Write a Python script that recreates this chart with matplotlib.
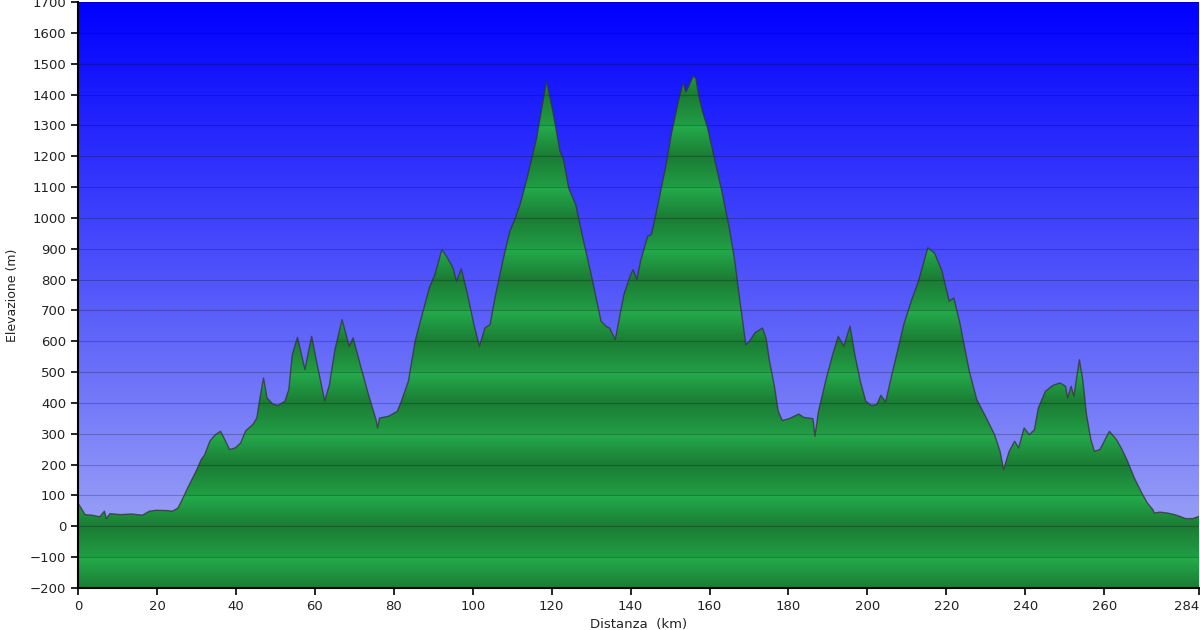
import numpy as np
import matplotlib
matplotlib.use("Agg")
import matplotlib.pyplot as plt
from matplotlib.patches import Polygon

# Profilo altimetrico: distanza (km) e quota (m)
distanza = [0.0, 0.5, 1.8, 3.6, 5.5, 6.7, 7.2, 8.1, 10.8, 13.6, 16.3, 18.1, 19.8,
            22.6, 23.9, 25.3, 26.2, 28.0, 29.9, 31.2, 32.1, 33.4, 34.8, 36.1, 37.2,
            38.4, 39.8, 41.2, 42.5, 44.3, 45.3, 46.1, 47.0, 47.9, 49.3, 50.6, 52.4,
            53.4, 54.3, 55.6, 57.5, 58.4, 59.2, 60.5, 62.5, 63.7, 65.1, 66.9, 68.7,
            69.7, 71.5, 73.7, 75.5, 75.9, 76.4, 78.7, 80.9, 81.9, 83.7, 85.4, 87.2,
            89.0, 90.4, 92.2, 93.6, 95.0, 95.9, 97.1, 98.5, 100.3, 101.7, 103.1,
            104.4, 105.8, 107.6, 109.4, 110.8, 112.1, 113.9, 114.8, 116.2, 117.5,
            118.7, 120.3, 122.1, 123.0, 124.3, 126.1, 127.9, 130.2, 132.5, 133.8,
            134.7, 136.1, 138.3, 139.7, 140.6, 141.6, 142.5, 144.3, 145.3, 147.1,
            149.0, 150.3, 152.1, 153.3, 154.0, 154.9, 155.8, 156.5, 157.2, 158.2,
            159.5, 161.4, 163.3, 165.0, 166.4, 167.8, 169.2, 170.1, 171.5, 173.4,
            174.3, 175.2, 176.5, 177.4, 178.4, 180.2, 182.6, 183.9, 186.2, 186.7,
            187.6, 189.4, 191.2, 192.6, 194.0, 195.6, 196.8, 198.2, 199.6, 201.0,
            202.4, 203.4, 204.6, 205.8, 207.4, 209.2, 211.1, 212.9, 215.3, 217.0,
            218.9, 220.7, 221.9, 223.5, 225.8, 227.7, 229.9, 232.2, 233.6, 234.5,
            235.9, 237.3, 238.3, 239.7, 241.0, 242.3, 243.3, 245.1, 247.0, 248.8,
            250.2, 250.7, 251.6, 252.3, 253.7, 254.6, 255.5, 256.6, 257.5, 258.9,
            261.3, 263.1, 264.5, 265.9, 267.6, 269.5, 270.9, 272.3, 272.7, 274.1,
            276.0, 277.8, 279.2, 280.6, 282.4, 284.0]
quota = [75, 65, 38, 36, 31, 49, 25, 41, 38, 40, 36, 49, 52,
         51, 49, 59, 81, 130, 178, 216, 232, 276, 297, 308, 281,
         249, 254, 270, 310, 330, 351, 416, 481, 416, 397, 392, 405,
         443, 557, 613, 508, 567, 616, 530, 407, 459, 573, 670, 584,
         611, 524, 422, 346, 319, 351, 357, 373, 405, 470, 600, 686,
         773, 816, 897, 870, 838, 794, 835, 762, 654, 584, 643,
         654, 751, 859, 957, 1000, 1048, 1135, 1184, 1259, 1356,
         1443, 1346, 1216, 1189, 1097, 1043, 935, 805, 665, 648,
         643, 605, 751, 805, 832, 800, 859, 940, 946, 1054,
         1173, 1270, 1378, 1438, 1408, 1432, 1459, 1454, 1400, 1346,
         1292, 1184, 1075, 967, 859, 719, 589, 600, 627, 643,
         611, 535, 449, 373, 343, 349, 364, 353, 349, 292,
         373, 470, 557, 616, 584, 649, 557, 470, 405, 392,
         395, 425, 403, 470, 557, 654, 730, 794, 903, 886,
         827, 730, 740, 654, 503, 411, 357, 297, 243, 184,
         243, 276, 254, 319, 297, 313, 384, 438, 457, 465,
         454, 416, 454, 422, 540, 470, 362, 281, 243, 249,
         308, 281, 249, 211, 157, 108, 76, 54, 43, 46,
         43, 38, 32, 25, 25, 32]

x_ticks = [0, 20, 40, 60, 80, 100, 120, 140, 160, 180, 200, 220, 240, 260, 284]
y_ticks = list(range(-200, 1701, 100))
x_min, x_max = 0, 284
y_min, y_max = -200, 1700

fig = plt.figure(figsize=(12, 6.3), dpi=100)
ax = fig.add_axes([78 / 1200, 42 / 630, 1121 / 1200, 586 / 630])

# sfondo: sfumatura dal blu al lilla
e = np.linspace(y_max, y_min, 600)
t = (y_max - e) / (y_max - y_min)
sky = np.zeros((len(e), 1, 3))
sky[:, 0, 0] = 170 * t / 255
sky[:, 0, 1] = 178 * t / 255
sky[:, 0, 2] = (255 - 10 * t) / 255
ax.imshow(sky, extent=[x_min, x_max, y_min, y_max], aspect="auto",
          interpolation="bilinear", zorder=0)

# riempimento verde a bande ogni 100 m
e2 = np.linspace(y_max, y_min, 1900)
d = np.mod(100 - e2, 200)
b = np.where(d < 100, 1 - d / 100, 0.7 * (d - 100) / 100)
dark = np.array([27, 124, 52]) / 255
bright = np.array([36, 172, 76]) / 255
green = dark[None, :] + b[:, None] * (bright - dark)[None, :]
green = green[:, None, :]
im = ax.imshow(green, extent=[x_min, x_max, y_min, y_max], aspect="auto",
               interpolation="bilinear", zorder=1)
verts = [(distanza[0], y_min)] + list(zip(distanza, quota)) + [(distanza[-1], y_min)]
poly = Polygon(verts, closed=True, facecolor="none", edgecolor="none")
ax.add_patch(poly)
im.set_clip_path(poly)

ax.plot(distanza, quota, color="#333333", lw=1.0, alpha=0.75, zorder=3)

# griglia orizzontale
for yv in y_ticks:
    ax.axhline(yv, color="black", lw=0.8, alpha=0.22, zorder=2)

ax.set_xlim(x_min, x_max)
ax.set_ylim(y_min, y_max)
ax.set_xticks(x_ticks)
ax.set_yticks(y_ticks)
ax.tick_params(axis="both", direction="out", length=5, width=1.2,
               labelsize=9.5, labelcolor="#222222")
# l'ultima etichetta (284) sta sul bordo destro
ax.get_xticklabels()[-1].set_horizontalalignment("right")
for s in ["top", "right"]:
    ax.spines[s].set_visible(False)
for s in ["left", "bottom"]:
    ax.spines[s].set_linewidth(1.5)
    ax.spines[s].set_zorder(5)

ax.set_ylabel("Elevazione (m)", fontsize=9, color="#222222", labelpad=8)
ax.set_xlabel("Distanza  (km)", fontsize=9.5, color="#222222", labelpad=4)

fig.savefig("out.png", dpi=100)
